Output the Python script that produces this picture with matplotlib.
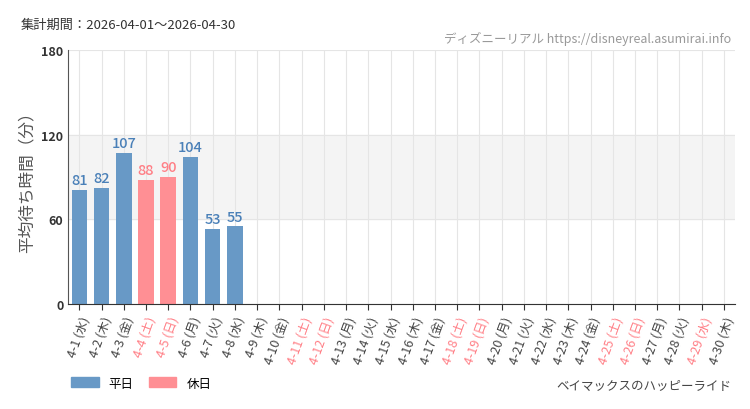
import matplotlib
matplotlib.use("Agg")
import matplotlib.pyplot as plt
from matplotlib.patches import Patch

plt.rcParams['font.family'] = ['Noto Sans CJK JP', 'DejaVu Sans']

days = [f"4-{d}" for d in range(1, 31)]
weekdays = ["水","木","金","土","日","月","火","水","木","金","土","日","月","火","水","木","金","土","日","月","火","水","木","金","土","日","月","火","水","木"]
holidays = {4, 5, 11, 12, 18, 19, 25, 26, 29}
values = [81, 82, 107, 88, 90, 104, 53, 55]

BLUE = "#6899c6"
RED = "#ff8f94"
BLUE_T = "#4a80b8"
RED_T = "#ff7f86"

fig = plt.figure(figsize=(7.5, 4.1), dpi=100)
ax = fig.add_axes([0.091, 0.256, 0.889, 0.62])
ax.axhspan(60, 120, color="#f4f4f4", zorder=0)
n = len(days)
for i, v in enumerate(values):
    hol = (i + 1) in holidays
    ax.bar(i, v, width=0.7, color=RED if hol else BLUE, zorder=2)
    ax.text(i, v + 2, str(v), ha="center", va="bottom", fontsize=10.5, fontweight="medium",
            color=RED_T if hol else BLUE_T, fontstretch="condensed")
ax.set_xlim(-0.5, n - 0.5)
ax.set_ylim(0, 180)
ax.set_yticks([0, 60, 120, 180])
ax.set_yticklabels(["0", "60", "120", "180"], fontsize=9, fontweight="bold", color="#333")
ax.set_xticks(range(n))
ax.set_xticklabels([f"{d} ({w})" for d, w in zip(days, weekdays)], rotation=70,
                   ha="right", rotation_mode="anchor", fontsize=9)
for i, lab in enumerate(ax.get_xticklabels()):
    lab.set_color(RED_T if (i + 1) in holidays else "#444")
ax.grid(True, color="#e5e5e5", lw=0.8, zorder=1)
ax.set_axisbelow(True)
for s in ["top", "right"]:
    ax.spines[s].set_visible(False)
ax.spines["left"].set_color("#555")
ax.spines["bottom"].set_color("#333")
ax.tick_params(axis="y", length=0)
ax.tick_params(axis="x", length=4, color="#333")
ax.set_ylabel("平均待ち時間（分）", fontsize=12, color="#555")

fig.text(0.027, 0.93, "集計期間：2026-04-01～2026-04-30", fontsize=9.5, color="#333")
fig.text(0.975, 0.895, "ディズニーリアル https://disneyreal.asumirai.info", fontsize=9,
         color="#999", ha="right")
fig.text(0.975, 0.05, "ベイマックスのハッピーライド", fontsize=9, color="#444", ha="right")
fig.legend(handles=[Patch(color=BLUE, label="平日"), Patch(color=RED, label="休日")],
           loc="lower left", bbox_to_anchor=(0.08, 0.02), ncol=2, frameon=False,
           fontsize=9, handlelength=2.2, handleheight=0.9, columnspacing=1.2)
fig.savefig("out.png")
